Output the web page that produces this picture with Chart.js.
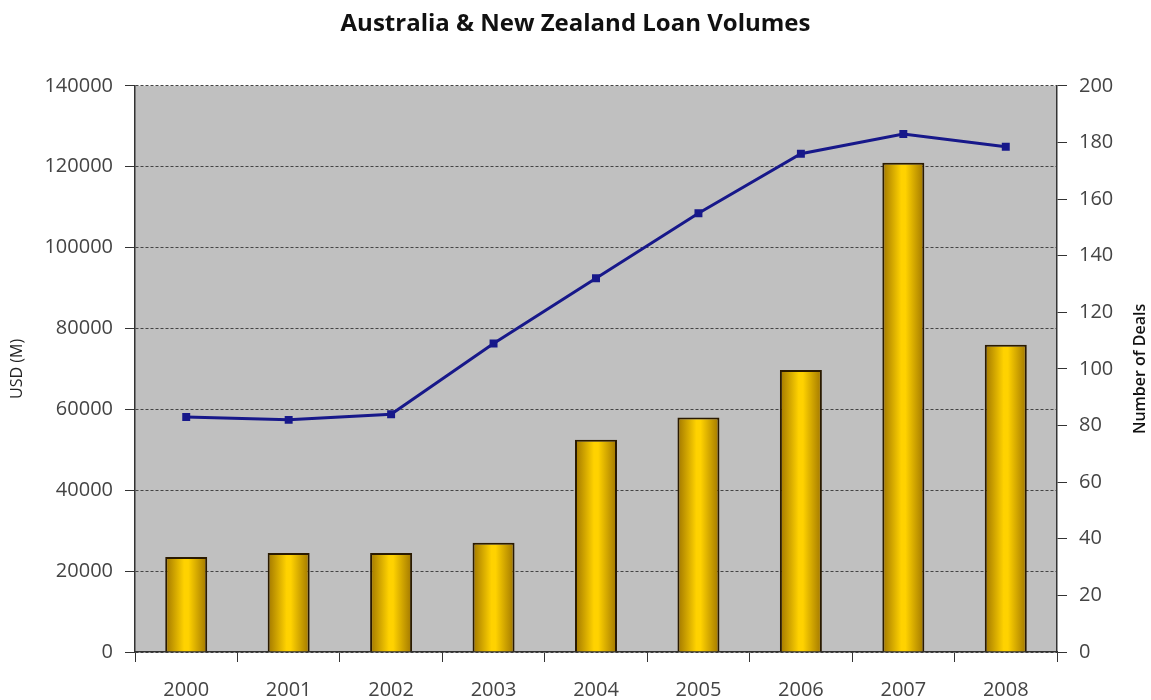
<!DOCTYPE html>
<html>
<head>
<meta charset="utf-8">
<script src="https://cdn.jsdelivr.net/npm/chart.js@4/dist/chart.umd.min.js"></script>
<style>
  html, body { margin: 0; padding: 0; background: #fff; }
  #wrap { width: 1151px; height: 700px; }
</style>
</head>
<body>
<div id="wrap"><canvas id="loanChart"></canvas></div>
<script>
const years = ["2000", "2001", "2002", "2003", "2004", "2005", "2006", "2007", "2008"];
const volumeUsd = [23500, 24500, 24500, 27000, 52500, 58000, 69700, 121000, 76000];
const dealCount = [83, 82, 84, 109, 132, 155, 176, 183, 178.5];

const BAR_PCT = 0.82, CAT_PCT = 0.5;

// gray plot background
const plotBg = {
  id: "plotBg",
  beforeDraw(chart) {
    const { ctx, chartArea: a } = chart;
    ctx.save();
    ctx.fillStyle = "#c0c0c0";
    ctx.fillRect(a.left, a.top, a.right - a.left, a.bottom - a.top);
    ctx.restore();
  }
};

// right axis title reads bottom-to-top, like the left one
const rightTitle = {
  id: "rightTitle",
  afterDraw(chart) {
    const { ctx, chartArea: a } = chart;
    ctx.save();
    ctx.translate(1140, (a.top + a.bottom) / 2);
    ctx.rotate(-Math.PI / 2);
    ctx.textAlign = "center";
    ctx.textBaseline = "middle";
    ctx.fillStyle = "#111";
    ctx.font = "600 16px 'Open Sans'";
    ctx.fillText("Number of Deals", 0, 0);
    ctx.restore();
  }
};

// gold bars, darker at the edges
function barFill(context) {
  const chart = context.chart;
  const xs = chart.scales && chart.scales.x;
  if (!chart.chartArea || !xs || context.dataIndex === undefined) return "#f5c400";
  const cx = xs.getPixelForValue(context.dataIndex);
  const half = (xs.width / years.length) * BAR_PCT * CAT_PCT / 2;
  if (!Number.isFinite(cx) || !Number.isFinite(half)) return "#f5c400";
  const g = chart.ctx.createLinearGradient(cx - half, 0, cx + half, 0);
  g.addColorStop(0, "#a07600");
  g.addColorStop(0.45, "#ffd200");
  g.addColorStop(0.55, "#ffd200");
  g.addColorStop(1, "#a07600");
  return g;
}

const tickFont = { family: "Open Sans", size: 20 };
const plain = v => String(v);

new Chart(document.getElementById("loanChart"), {
  type: "bar",
  data: {
    labels: years,
    datasets: [
      {
        type: "line",
        label: "Number of Deals",
        data: dealCount,
        yAxisID: "y2",
        borderColor: "#17188a",
        backgroundColor: "#17188a",
        borderWidth: 3,
        pointStyle: "rect",
        pointRadius: 3.5,
        pointHoverRadius: 3.5,
        tension: 0,
        order: 0
      },
      {
        label: "USD (M)",
        data: volumeUsd,
        yAxisID: "y",
        backgroundColor: barFill,
        borderColor: "#2a1a00",
        borderWidth: 2,
        barPercentage: BAR_PCT,
        categoryPercentage: CAT_PCT,
        order: 1
      }
    ]
  },
  options: {
    responsive: true,
    maintainAspectRatio: false,
    animation: false,
    layout: { padding: 0 },
    plugins: {
      legend: { display: false },
      tooltip: { enabled: false },
      title: {
        display: true,
        text: "Australia & New Zealand Loan Volumes",
        color: "#111",
        font: { family: "Open Sans", size: 24, weight: "bold" },
        padding: { top: 10, bottom: 47 }
      }
    },
    scales: {
      x: {
        offset: true,
        grid: { offset: true, drawOnChartArea: false, color: "#333", tickLength: 10 },
        border: { color: "#333", width: 1.5 },
        ticks: { color: "#444", font: tickFont, padding: 16 },
        afterFit(s) { s.height = 48; }
      },
      y: {
        position: "left",
        min: 0,
        max: 140000,
        ticks: { stepSize: 20000, color: "#444", font: tickFont, padding: 12, callback: plain },
        grid: {
          color: "#444",
          tickBorderDash: [],
          tickLength: 10,
          tickColor: "#333"
        },
        border: { color: "#333", width: 1.5, dash: [3, 2] },
        title: {
          display: true,
          text: "USD (M)",
          color: "#222",
          font: { family: "Open Sans", size: 16 },
          padding: { top: 8, bottom: 0 }
        },
        afterFit(s) { s.width = 135; }
      },
      y2: {
        position: "right",
        min: 0,
        max: 200,
        ticks: { stepSize: 20, color: "#444", font: tickFont, padding: 12, callback: plain },
        grid: { drawOnChartArea: false, color: "#333", tickLength: 10 },
        border: { color: "#333", width: 1.5 },
        afterFit(s) { s.width = 94; }
      }
    }
  },
  plugins: [plotBg, rightTitle]
});
</script>
</body>
</html>
